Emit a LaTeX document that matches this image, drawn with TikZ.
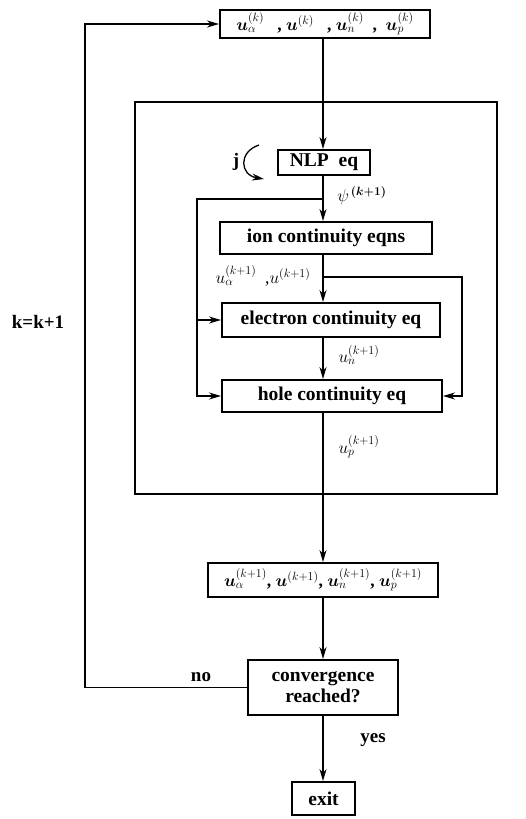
\documentclass[tikz,border=0pt]{standalone}
\usepackage{amsmath,bm}
\usepackage{fontspec}
\setmainfont{Liberation Serif}
\usetikzlibrary{arrows.meta}
\begin{document}
\begin{tikzpicture}[x=1pt,y=-1pt,
  box/.style={draw,line width=2pt,inner sep=0pt,font=\fontsize{19.5}{22}\selectfont\bfseries,align=center},
  mbox/.style={box,font=\fontsize{17.5}{20}\selectfont\bfseries},
  bigbox/.style={draw,line width=1.6pt,inner sep=0pt},
  conn/.style={line width=1.3pt},
  arr/.style={conn,-{Stealth[length=12pt,width=7pt]}},
  lab/.style={font=\fontsize{19}{22}\selectfont\bfseries,inner sep=0pt},
  mlab/.style={font=\fontsize{17.5}{20}\selectfont,inner sep=0pt}]
\useasboundingbox (0,0) rectangle (526,819);
\coordinate (sx) at (323,0);
% nodes
\node[mbox,minimum width=210pt,minimum height=28pt] (top) at (325,24)
  {$\bm{u}_{\alpha}^{(k)}$\ \ \ , $\bm{u}^{(k)}$\ \ \ , $\bm{u}_{n}^{(k)}$\ \ , \ $\bm{u}_{p}^{(k)}$};
\node[bigbox,minimum width=362pt,minimum height=392pt] (big) at (316,298) {};
\node[box,minimum width=92pt,minimum height=25pt] (nlp) at (324,162.5) {NLP\ \ eq};
\node[box,minimum width=212pt,minimum height=32pt] (ion) at (326,238) {ion continuity eqns};
\node[box,minimum width=218pt,minimum height=34pt] (ele) at (331,320) {electron continuity eq};
\node[box,minimum width=220pt,minimum height=32pt] (hole) at (332,396) {hole continuity eq};
\node[mbox,minimum width=230pt,minimum height=34pt] (dat) at (323,580)
  {$\bm{u}_{\alpha}^{(k+1)}$, $\bm{u}^{(k+1)}$, $\bm{u}_{n}^{(k+1)}$, $\bm{u}_{p}^{(k+1)}$};
\node[box,minimum width=150pt,minimum height=55pt,font=\fontsize{19.5}{21}\selectfont\bfseries] (conv) at (323,687.5) {convergence\\reached?};
\node[box,minimum width=63pt,minimum height=33pt] (exit) at (323.5,798.5) {exit};
% labels
\node[lab] (j) at (236,162) {j};
\node[mlab] (psi) at (362,196) {$\psi^{\,\bm{(k+1)}}$};
\node[mlab] (ua) at (263,276) {$u_{\alpha}^{(k+1)}$\ \ ,$u^{(k+1)}$};
\node[mlab] (un) at (359,355) {$u_{n}^{(k+1)}$};
\node[mlab] (up) at (359,447) {$u_{p}^{(k+1)}$};
\node[lab] (no) at (201,677) {no};
\node[lab] (yes) at (373,740) {yes};
\node[lab] (kk) at (38,322) {k=k+1};
% curved arrow j
\coordinate (ja) at (259,145);
\coordinate (jb) at (264,179);
\draw[arr] (ja) .. controls (238,152) and (240,175) .. (jb);
% main spine
\draw[arr] (top.south -| sx) -- (nlp.north -| sx);
\draw[arr] (nlp.south -| sx) -- (ion.north -| sx);
\draw[arr] (ion.south -| sx) -- (ele.north -| sx);
\draw[arr] (ele.south -| sx) -- (hole.north -| sx);
\draw[arr] (hole.south -| sx) -- (dat.north -| sx);
\draw[arr] (dat.south -| sx) -- (conv.north -| sx);
\draw[arr] (conv.south -| sx) -- (exit.north -| sx);
% left branch
\coordinate (j1) at (323,199);
\coordinate (L1) at (197,199);
\draw[arr] (j1) -- (L1) |- (hole.west);
\draw[arr] (L1 |- ele.west) -- (ele.west);
% right branch
\coordinate (j2) at (323,277);
\coordinate (R1) at (462,277);
\draw[arr] (j2) -- (R1) |- (hole.east);
% feedback loop
\coordinate (F1) at (85,0);
\draw[arr] (conv.west) -- (conv.west -| F1) |- (top.west);
\end{tikzpicture}
\end{document}
